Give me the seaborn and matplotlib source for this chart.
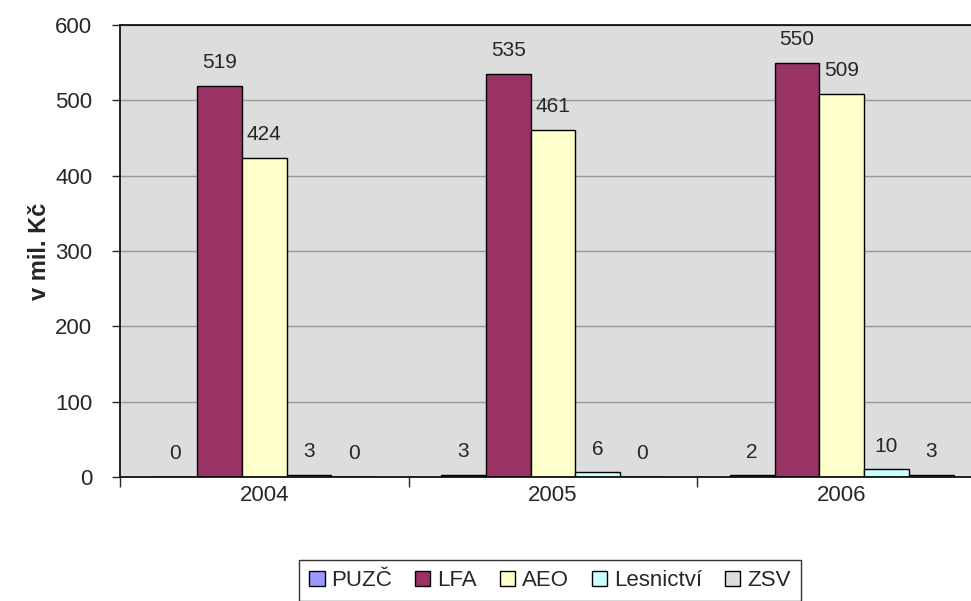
import matplotlib
matplotlib.use("Agg")
import matplotlib.pyplot as plt
import seaborn as sns
import pandas as pd
import numpy as np

years = ["2004", "2005", "2006"]
series = ["PUZČ", "LFA", "AEO", "Lesnictví", "ZSV"]
puzc = [0, 3, 2]
lfa = [519, 535, 550]
aeo = [424, 461, 509]
lesnictvi = [3, 6, 10]
zsv = [0, 0, 3]
colors = ["#9999FF", "#993366", "#FFFFCC", "#CCFFFF", "#DDDDDD"]

values = [puzc, lfa, aeo, lesnictvi, zsv]
rows = []
for s, vals in zip(series, values):
    for y, v in zip(years, vals):
        rows.append({"year": y, "series": s, "value": v})
df = pd.DataFrame(rows)

sns.set_theme(style="white")
plt.rcParams["font.family"] = ["Liberation Sans", "DejaVu Sans"]

fig = plt.figure(figsize=(9.71, 6.01), dpi=100)
ax = fig.add_axes([120/971, 124/601, 866/971, 452/601])
ax.set_facecolor("#DDDDDD")

sns.barplot(data=df, x="year", y="value", hue="series", order=years,
            hue_order=series, palette=colors, edgecolor="black",
            linewidth=1, width=0.775, ax=ax, legend=True, saturation=1)

for cont in ax.containers:
    ax.bar_label(cont, fmt="%d", padding=10, fontsize=15)

ax.set_ylim(0, 600)
ax.set_xlim(-0.5, 2.5)
ax.set_yticks(np.arange(0, 601, 100))
ax.yaxis.grid(True, color="#999999", linewidth=1)
ax.set_axisbelow(True)
ax.tick_params(axis="y", labelsize=16, length=6, width=1, direction="out", left=True, pad=14)
ax.tick_params(axis="x", which="major", labelsize=16, length=0, pad=6)
ax.set_xticks([-0.5, 0.5, 1.5, 2.5], minor=True)
ax.tick_params(axis="x", which="minor", length=7, width=1, direction="out", bottom=True)
ax.set_xlabel("")
ax.set_ylabel("v mil. Kč", fontsize=17, fontweight="bold")
ax.yaxis.set_label_coords(-0.080, 0.5)
for sp in ["left", "bottom", "top"]:
    ax.spines[sp].set_visible(True)
    ax.spines[sp].set_color("black")
    ax.spines[sp].set_linewidth(1.2)
ax.spines["right"].set_visible(False)

handles, labels = ax.get_legend_handles_labels()
ax.get_legend().remove()
leg = fig.legend(handles, labels, loc="upper center", bbox_to_anchor=(550/971, 1 - 560/601),
                 ncol=5, fontsize=16, frameon=True, fancybox=False, edgecolor="black",
                 handlelength=0.68, handleheight=0.68, handletextpad=0.3,
                 columnspacing=1.05, borderpad=0.45, borderaxespad=0)
leg.get_frame().set_linewidth(1)
leg.get_frame().set_facecolor("white")

fig.savefig("out.png", dpi=100)
